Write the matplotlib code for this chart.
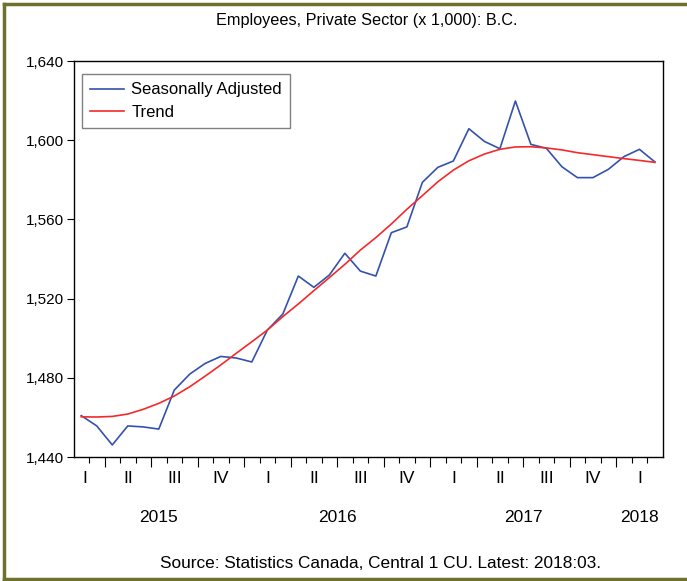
import matplotlib
matplotlib.use('Agg')
import matplotlib.pyplot as plt
from matplotlib import font_manager
from matplotlib.lines import Line2D
import numpy as np
import pandas as pd

# monthly observations, Feb 2015 .. Mar 2018
months = pd.period_range('2015-02', '2018-03', freq='M')

seasonally_adjusted = [1460.9, 1455.7, 1446.1, 1455.7, 1455.2, 1454.1, 1473.8, 1481.9,
                       1487.3, 1490.8, 1490.0, 1488.0, 1504.1, 1512.2, 1531.4, 1525.7,
                       1531.9, 1542.9, 1533.9, 1531.4, 1553.3, 1556.2, 1578.7, 1586.3,
                       1589.5, 1605.8, 1599.4, 1595.7, 1619.8, 1597.9, 1595.9, 1586.6,
                       1581.1, 1581.1, 1585.3, 1591.7, 1595.4, 1589.0]

trend = [1460.3, 1460.2, 1460.5, 1461.7, 1464.1, 1467.1, 1470.8, 1475.5,
         1480.9, 1486.5, 1492.4, 1498.2, 1504.1, 1510.9, 1517.3, 1524.0,
         1530.6, 1537.3, 1544.5, 1550.8, 1557.7, 1565.1, 1572.0, 1579.0,
         1584.9, 1589.6, 1593.0, 1595.4, 1596.6, 1596.7, 1596.1, 1595.1,
         1593.7, 1592.7, 1591.7, 1590.7, 1589.8, 1588.8]

y_ticks = [1440, 1480, 1520, 1560, 1600, 1640]
quarter_names = ['I', 'II', 'III', 'IV']

title = 'Employees, Private Sector (x 1,000): B.C.'
source = 'Source: Statistics Canada, Central 1 CU. Latest: 2018:03.'

names = {f.name for f in font_manager.fontManager.ttflist}
fam = 'Liberation Sans Narrow' if 'Liberation Sans Narrow' in names else 'Liberation Sans'
plt.rcParams['font.family'] = [fam, 'DejaVu Sans']

W, H = 687, 581
fig = plt.figure(figsize=(W / 100, H / 100), dpi=100)
ax = fig.add_axes([0.107, 0.2134, 0.8576, 0.6816])

x = np.arange(len(months))
ax.plot(x, seasonally_adjusted, color='#3452ad', lw=1.2, label='Seasonally Adjusted')
ax.plot(x, trend, color='#f42a2a', lw=1.2, label='Trend')

ax.set_xlim(-0.5, len(months) - 0.5)
ax.set_ylim(1440, 1640)
ax.set_yticks(y_ticks)
ax.set_yticklabels([f'{v:,}' for v in y_ticks], fontsize=11)
ax.tick_params(axis='y', direction='out', length=5, width=0.8, pad=2)

# month ticks at boundaries, long ticks where a quarter starts
bounds = x[:-1] + 0.5
qstart = [b for b, m in zip(bounds, months[1:]) if m.month in (1, 4, 7, 10)]
ax.set_xticks(qstart)
ax.set_xticklabels([])
ax.set_xticks(bounds, minor=True)
ax.tick_params(axis='x', which='major', direction='out', length=7, width=0.8)
ax.tick_params(axis='x', which='minor', direction='out', length=4, width=0.8)

for s in ax.spines.values():
    s.set_linewidth(1.0)

# quarter and year labels
trans = ax.get_xaxis_transform()
qs = pd.PeriodIndex(months, freq='Q')
for q in qs.unique():
    idx = x[qs == q]
    lo, hi = idx.min() - 0.5, idx.max() + 0.5
    if len(idx) < 3 and idx.min() == 0:
        pos = lo + 0.7
    else:
        pos = (lo + hi) / 2
    ax.text(pos, -0.054, quarter_names[q.quarter - 1], transform=trans,
            ha='center', va='center', fontsize=12.5)
years = months.year
for yr in sorted(set(years)):
    idx = x[years == yr]
    pos = (idx.min() - 0.5 + idx.max() + 0.5) / 2
    ax.text(pos, -0.152, str(yr), transform=trans, ha='center', va='center', fontsize=12.5)

leg = ax.legend(loc='upper left', bbox_to_anchor=(0.0144, 0.967), borderaxespad=0,
                fontsize=12, fancybox=False, framealpha=1, edgecolor='#808080',
                handlelength=2.0, handletextpad=0.45, borderpad=0.5, labelspacing=0.45)
leg.get_frame().set_linewidth(1.0)

fig.text(367 / W, 1 - 20 / H, title, ha='center', va='center', fontsize=11.7)
fig.text(381 / W, 1 - 563 / H, source, ha='center', va='center', fontsize=12.4)

# olive frame: left, top and bottom only (right side runs off the picture)
fx0, fy_top, fy_bot = 3.5 / W, 1 - 4 / H, 2.5 / H
for xs, ys in [([fx0, fx0], [fy_bot, fy_top]),
               ([fx0, 1.0], [fy_top, fy_top]),
               ([fx0, 1.0], [fy_bot, fy_bot])]:
    fig.add_artist(Line2D(xs, ys, transform=fig.transFigure, color='#6f6f2e',
                          lw=2.5, solid_capstyle='projecting'))

fig.savefig('out.png', dpi=100)
